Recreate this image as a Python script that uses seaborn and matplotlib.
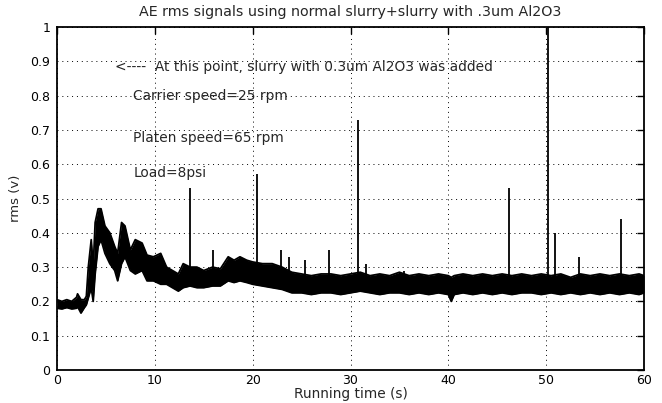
import matplotlib
matplotlib.use("Agg")
import matplotlib.pyplot as plt
import seaborn as sns

# ---- data ----
t = [0.0, 0.5, 1.0, 1.5, 2.0, 2.1, 2.45, 2.8, 3.0, 3.2, 3.5, 3.7, 3.9, 4.2, 4.5,
     4.9, 5.4, 5.9, 6.2, 6.6, 6.95, 7.5, 8.0, 8.7, 9.2, 9.85, 10.6, 11.2, 11.8,
     12.4, 12.9, 13.6, 14.3, 15.0, 15.9, 16.7, 17.5, 18.1, 18.7, 19.4, 20.0,
     21.0, 22.0, 23.0, 24.0, 25.0, 26.0, 27.0, 28.0, 29.0, 30.0, 31.0, 32.0,
     33.0, 34.0, 35.0, 36.0, 37.0, 38.0, 39.0, 40.0, 40.3, 40.6, 41.5, 42.5,
     43.5, 44.5, 45.5, 46.5, 47.5, 48.5, 49.5, 50.5, 51.5, 52.5, 53.5, 54.5,
     55.5, 56.5, 57.5, 58.5, 59.5, 60.0]
upper = [0.205, 0.200, 0.205, 0.200, 0.212, 0.222, 0.205, 0.205, 0.215, 0.30,
         0.38, 0.30, 0.43, 0.47, 0.47, 0.42, 0.40, 0.36, 0.34, 0.43, 0.42, 0.35,
         0.38, 0.37, 0.335, 0.33, 0.34, 0.30, 0.29, 0.28, 0.31, 0.30, 0.30, 0.29,
         0.30, 0.295, 0.33, 0.32, 0.33, 0.32, 0.315, 0.31, 0.31, 0.30, 0.285,
         0.28, 0.275, 0.28, 0.28, 0.275, 0.28, 0.285, 0.275, 0.28, 0.275, 0.285,
         0.275, 0.28, 0.275, 0.28, 0.275, 0.27, 0.275, 0.28, 0.275, 0.28, 0.275,
         0.28, 0.275, 0.28, 0.275, 0.28, 0.275, 0.28, 0.27, 0.28, 0.275, 0.28,
         0.275, 0.28, 0.275, 0.28, 0.275]
lower = [0.180, 0.178, 0.182, 0.178, 0.180, 0.185, 0.166, 0.182, 0.190, 0.21,
         0.24, 0.20, 0.28, 0.36, 0.38, 0.34, 0.31, 0.29, 0.26, 0.31, 0.33, 0.29,
         0.28, 0.29, 0.26, 0.26, 0.25, 0.25, 0.24, 0.23, 0.24, 0.245, 0.24, 0.24,
         0.245, 0.245, 0.26, 0.255, 0.26, 0.255, 0.25, 0.245, 0.24, 0.235, 0.225,
         0.225, 0.22, 0.225, 0.225, 0.22, 0.225, 0.23, 0.225, 0.22, 0.225, 0.225,
         0.22, 0.225, 0.22, 0.225, 0.22, 0.20, 0.22, 0.225, 0.22, 0.225, 0.22,
         0.225, 0.22, 0.225, 0.225, 0.22, 0.225, 0.22, 0.225, 0.22, 0.225, 0.22,
         0.225, 0.22, 0.225, 0.22, 0.225]

spike_t = [13.6, 15.9, 20.45, 22.9, 23.7, 25.3, 27.8, 30.8, 31.6, 35.5,
           46.15, 50.2, 50.9, 53.4, 57.6]
spike_top = [0.53, 0.35, 0.57, 0.35, 0.33, 0.32, 0.35, 0.73, 0.31, 0.29,
             0.53, 1.0, 0.40, 0.33, 0.44]

x_ticks = [0, 10, 20, 30, 40, 50, 60]
y_ticks = [0, 0.1, 0.2, 0.3, 0.4, 0.5, 0.6, 0.7, 0.8, 0.9, 1]
y_tick_labels = ["0", "0.1", "0.2", "0.3", "0.4", "0.5", "0.6", "0.7", "0.8", "0.9", "1"]

title = "AE rms signals using normal slurry+slurry with .3um Al2O3"
notes = ["<----  At this point, slurry with 0.3um Al2O3 was added",
         "Carrier speed=25 rpm", "Platen speed=65 rpm", "Load=8psi"]
note_x = [5.9, 7.8, 7.8, 7.8]
note_y = [0.883, 0.80, 0.676, 0.574]

# ---- plotting ----
sns.set_style("white")
plt.rcParams["font.family"] = ["DejaVu Sans"]
plt.rcParams["font.size"] = 9

fig = plt.figure(figsize=(6.62, 4.03), dpi=100)
ax = fig.add_axes([57 / 662, 33 / 403, 587 / 662, 343 / 403])

ax.fill_between(t, lower, upper, color="black", linewidth=0, zorder=2)
sns.lineplot(x=t, y=upper, color="black", linewidth=1.3, ax=ax,
             estimator=None, sort=False, zorder=3)
sns.lineplot(x=t, y=lower, color="black", linewidth=1.3, ax=ax,
             estimator=None, sort=False, zorder=3)
ax.vlines(spike_t, [0.27] * len(spike_t), spike_top,
          color="black", linewidth=1.3, zorder=3)

ax.set_xlim(0, 60)
ax.set_ylim(0, 1)
ax.set_xticks(x_ticks)
ax.set_yticks(y_ticks)
ax.set_yticklabels(y_tick_labels)
ax.grid(True, linestyle=(0, (1, 4)), color="black", linewidth=0.7, zorder=0)
ax.tick_params(direction="in", length=5, width=1.0, right=True, top=True,
               labelsize=9, colors="black")
ax.tick_params(axis="y", pad=5)
ax.tick_params(axis="x", pad=3)
for s in ax.spines.values():
    s.set_visible(True)
    s.set_color("black")
    s.set_linewidth(1.3)

ax.set_xlabel("Running time (s)", fontsize=9.9, labelpad=0)
ax.set_ylabel("rms (v)", fontsize=9.5, labelpad=6)
ax.set_title(title, fontsize=10.3, pad=8)

for s, x, y in zip(notes, note_x, note_y):
    ax.text(x, y, s, fontsize=9.9, va="center", ha="left")

fig.savefig("out.png", dpi=100, facecolor="white")
